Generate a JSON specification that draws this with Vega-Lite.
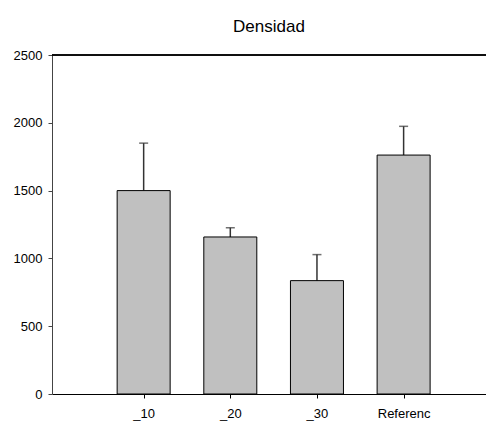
{
  "$schema": "https://vega.github.io/schema/vega-lite/v6.json",
  "width": 434,
  "height": 339,
  "autosize": "none",
  "padding": {"left": 52, "top": 55, "right": 0, "bottom": 30},
  "background": "white",
  "config": {
    "view": {"stroke": null},
    "font": "Liberation Sans"
  },
  "title": {
    "text": "Densidad",
    "fontSize": 17,
    "fontWeight": "normal",
    "font": "Liberation Sans",
    "color": "black",
    "anchor": "middle",
    "baseline": "alphabetic",
    "offset": 0
  },
  "data": {
    "values": [
      {"pos": 1, "grupo": "_10", "densidad": 1500, "error": 350},
      {"pos": 2, "grupo": "_20", "densidad": 1158, "error": 68},
      {"pos": 3, "grupo": "_30", "densidad": 836, "error": 192},
      {"pos": 4, "grupo": "Referenc", "densidad": 1762, "error": 212}
    ]
  },
  "transform": [
    {"calculate": "datum.densidad + datum.error", "as": "superior"}
  ],
  "layer": [
    {
      "mark": {"type": "rule", "color": "#333333", "strokeWidth": 1.5},
      "encoding": {
        "x": {"field": "pos", "type": "quantitative"},
        "y": {"field": "densidad", "type": "quantitative"},
        "y2": {"field": "superior"}
      }
    },
    {
      "mark": {"type": "tick", "orient": "horizontal", "size": 9, "thickness": 1.5, "color": "#333333"},
      "encoding": {
        "x": {"field": "pos", "type": "quantitative"},
        "y": {"field": "superior", "type": "quantitative"}
      }
    },
    {
      "mark": {"type": "bar", "size": 53, "fill": "#c0c0c0", "stroke": "black", "strokeWidth": 1},
      "encoding": {
        "x": {
          "field": "pos",
          "type": "quantitative",
          "title": null,
          "scale": {"domain": [0, 4.893], "nice": false, "zero": false},
          "axis": {
            "values": [1, 2, 3, 4],
            "labelExpr": "['', '_10', '_20', '_30', 'Referenc'][datum.value]",
            "grid": false,
            "tickSize": 4,
            "labelPadding": 9,
            "labelFontSize": 13,
            "labelColor": "black",
            "domainColor": "black",
            "tickColor": "black"
          }
        },
        "y": {
          "field": "densidad",
          "type": "quantitative",
          "title": null,
          "scale": {"domain": [0, 2500], "nice": false},
          "axis": {
            "values": [0, 500, 1000, 1500, 2000, 2500],
            "format": "d",
            "grid": false,
            "tickSize": 4,
            "labelPadding": 6,
            "labelFontSize": 13,
            "labelColor": "black",
            "domainColor": "#444444",
            "tickColor": "#444444"
          }
        }
      }
    },
    {
      "mark": {"type": "rule", "color": "black", "strokeWidth": 1},
      "encoding": {"y": {"datum": 2500}}
    }
  ]
}
